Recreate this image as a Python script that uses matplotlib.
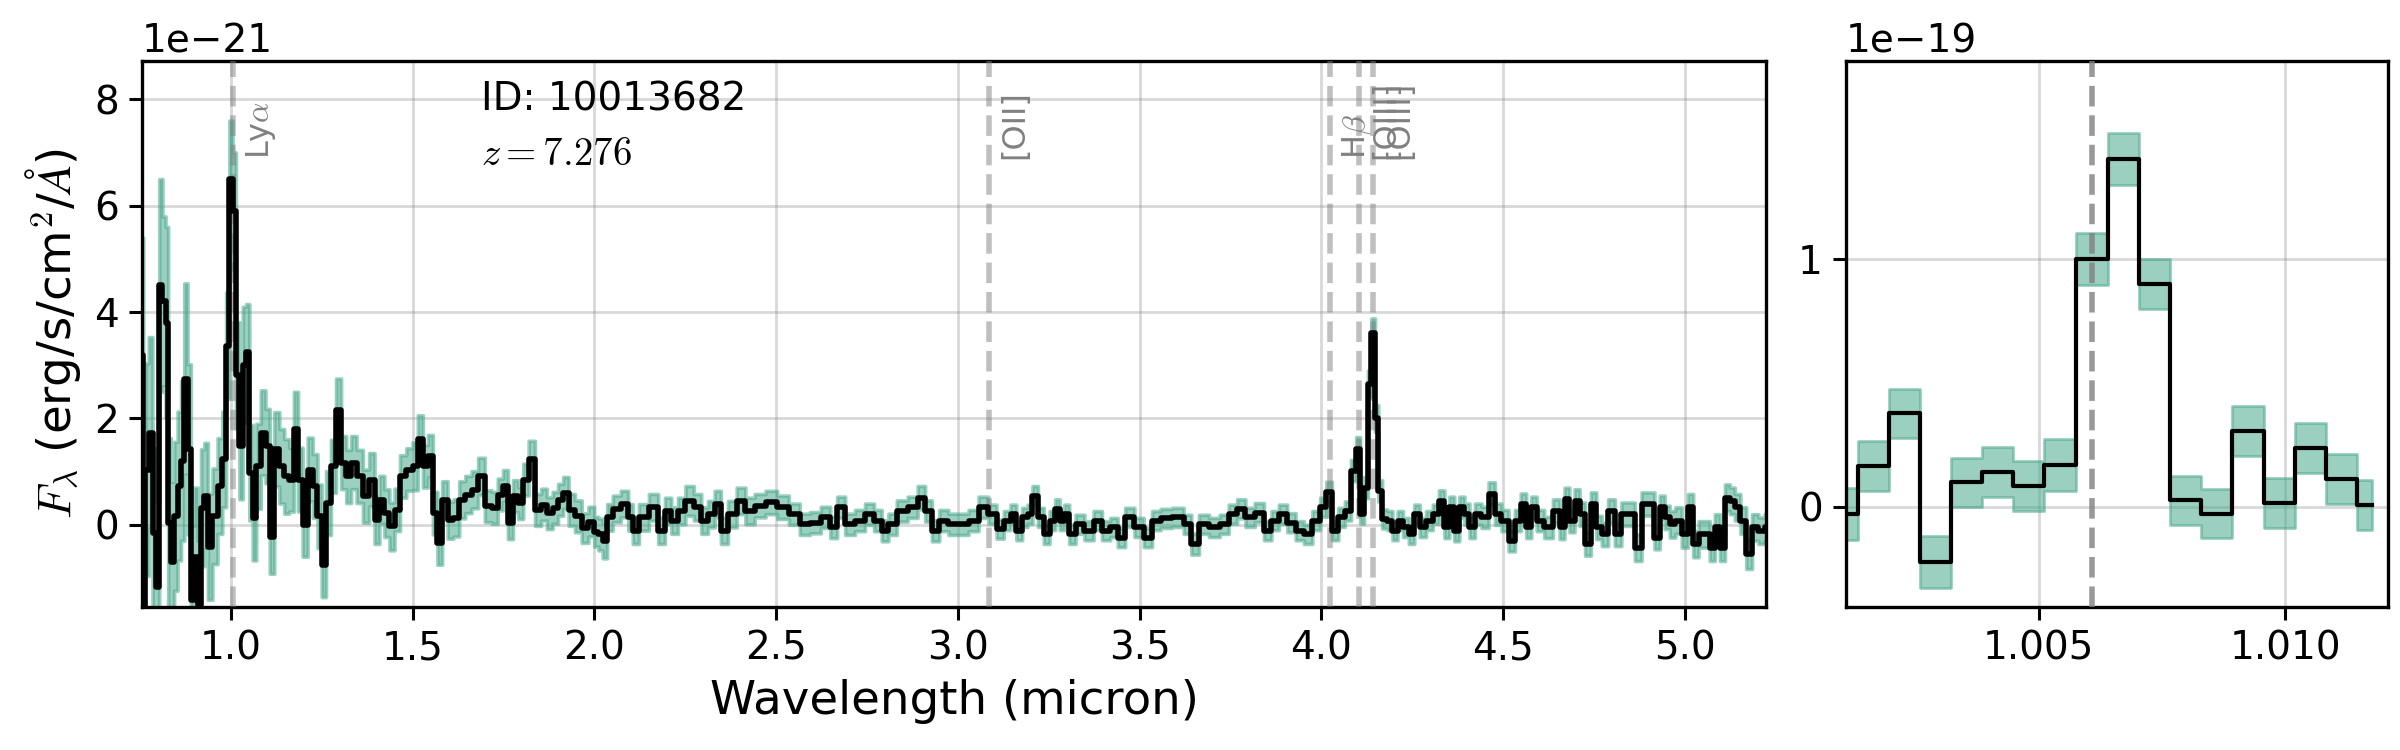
import matplotlib
matplotlib.use("Agg")
import matplotlib.pyplot as plt
import matplotlib.transforms as mtransforms
import numpy as np

plt.rcParams["mathtext.fontset"] = "cm"
plt.rcParams["font.family"] = ["DejaVu Sans"]

# full spectrum, flux in units of 1e-21 erg/s/cm2/A
wave = [
    0.756, 0.761, 0.768, 0.779, 0.789, 0.798, 0.807, 0.816, 0.824, 0.830,
    0.839, 0.848, 0.858, 0.867, 0.876, 0.885, 0.894, 0.903, 0.913, 0.922,
    0.931, 0.942, 0.956, 0.970, 0.982, 0.991, 1.000, 1.009, 1.018, 1.028,
    1.037, 1.046, 1.055, 1.064, 1.075, 1.089, 1.101, 1.112, 1.126, 1.140,
    1.153, 1.167, 1.179, 1.190, 1.204, 1.218, 1.232, 1.244, 1.255, 1.268,
    1.282, 1.296, 1.310, 1.324, 1.337, 1.354, 1.372, 1.388, 1.402, 1.415,
    1.429, 1.443, 1.457, 1.473, 1.492, 1.507, 1.521, 1.535, 1.549, 1.562,
    1.574, 1.588, 1.604, 1.620, 1.636, 1.653, 1.671, 1.689, 1.708, 1.726,
    1.742, 1.755, 1.769, 1.783, 1.797, 1.811, 1.827, 1.846, 1.861, 1.877,
    1.893, 1.907, 1.921, 1.937, 1.956, 1.974, 1.993, 2.006, 2.016, 2.029,
    2.041, 2.060, 2.085, 2.101, 2.110, 2.135, 2.165, 2.186, 2.202, 2.221,
    2.239, 2.262, 2.285, 2.303, 2.322, 2.340, 2.356, 2.379, 2.404, 2.427,
    2.455, 2.487, 2.519, 2.551, 2.579, 2.607, 2.639, 2.659, 2.677, 2.703,
    2.731, 2.758, 2.781, 2.800, 2.818, 2.846, 2.878, 2.901, 2.919, 2.938,
    2.960, 2.988, 3.016, 3.043, 3.071, 3.097, 3.116, 3.137, 3.153, 3.169,
    3.185, 3.199, 3.212, 3.229, 3.244, 3.261, 3.275, 3.286, 3.300, 3.313,
    3.335, 3.362, 3.385, 3.408, 3.431, 3.449, 3.472, 3.500, 3.523, 3.546,
    3.570, 3.610, 3.633, 3.652, 3.675, 3.707, 3.734, 3.757, 3.780, 3.803,
    3.831, 3.854, 3.872, 3.895, 3.918, 3.941, 3.964, 3.987, 4.007, 4.021,
    4.038, 4.056, 4.074, 4.090, 4.102, 4.112, 4.124, 4.133, 4.143, 4.153,
    4.161, 4.174, 4.189, 4.203, 4.217, 4.233, 4.249, 4.263, 4.279, 4.298,
    4.316, 4.332, 4.346, 4.359, 4.373, 4.387, 4.401, 4.415, 4.431, 4.451,
    4.470, 4.486, 4.506, 4.525, 4.541, 4.557, 4.571, 4.585, 4.601, 4.626,
    4.649, 4.663, 4.676, 4.690, 4.704, 4.718, 4.734, 4.750, 4.764, 4.780,
    4.799, 4.817, 4.835, 4.854, 4.872, 4.891, 4.909, 4.925, 4.938, 4.952,
    4.966, 4.983, 5.001, 5.017, 5.030, 5.047, 5.062, 5.076, 5.090, 5.104,
    5.118, 5.131, 5.145, 5.162, 5.177, 5.194, 5.212, 5.228,
]
flux = [
    3.2, -2.0, 1.04, 1.73, -0.16, -1.17, 4.5, 4.2, 3.8, 0.03,
    -0.69, 0.16, 0.73, 1.2, 2.74, 1.42, -1.42, -0.6, -1.5, 0.32,
    0.54, -0.41, 0.16, 0.73, 1.23, 3.37, 6.5, 5.9, 2.81, 1.48,
    3.0, 3.25, 0.98, 0.13, 1.1, 1.73, 1.48, -0.22, 1.42, 1.1,
    0.91, 0.85, 1.8, 0.85, 0.0, 1.04, 0.73, 0.16, -0.76, 0.41,
    1.1, 2.15, 1.17, 0.91, 1.17, 0.91, 0.54, 0.85, 0.09, 0.47,
    0.22, -0.03, 0.28, 0.91, 1.04, 1.1, 1.61, 1.1, 1.29, 0.22,
    -0.35, 0.47, 0.09, 0.13, 0.47, 0.57, 0.66, 0.91, 0.35, 0.32,
    0.57, 0.73, 0.03, 0.54, 0.41, 0.85, 1.23, 0.28, 0.38, 0.22,
    0.32, 0.47, 0.6, 0.28, 0.16, -0.06, 0.06, -0.13, -0.18, -0.30,
    0.14, 0.30, 0.39, 0.14, -0.11, 0.14, 0.33, -0.11, 0.26, 0.08,
    0.26, 0.45, 0.33, 0.08, 0.20, 0.39, -0.11, 0.20, 0.45, 0.26,
    0.36, 0.42, 0.33, 0.20, 0.01, 0.04, 0.14, -0.05, 0.33, 0.01,
    0.08, 0.20, 0.08, -0.11, 0.01, 0.26, 0.33, 0.51, 0.26, -0.11,
    0.08, 0.01, 0.01, 0.08, 0.33, 0.20, -0.08, 0.08, 0.20, -0.11,
    0.14, 0.20, 0.55, 0.14, -0.18, 0.08, 0.30, 0.08, 0.20, -0.18,
    0.01, -0.11, 0.08, -0.11, -0.05, -0.24, 0.14, -0.05, -0.24, 0.08,
    0.12, 0.14, 0.01, -0.36, 0.01, -0.05, 0.01, 0.20, 0.30, 0.14,
    0.23, -0.11, 0.08, 0.20, 0.04, -0.11, -0.18, 0.08, 0.33, 0.61,
    -0.11, 0.14, 0.26, 1.02, 1.43, 0.20, 0.70, 2.65, 3.6, 2.0,
    0.64, 0.11, 0.08, -0.11, 0.08, -0.05, -0.18, 0.20, -0.05, 0.08,
    0.20, 0.45, -0.05, 0.33, -0.11, 0.33, 0.20, -0.05, 0.20, 0.14,
    0.58, 0.20, 0.08, -0.30, 0.08, 0.39, -0.05, 0.33, 0.08, -0.05,
    0.26, -0.05, 0.48, 0.08, 0.45, 0.20, -0.36, 0.39, -0.05, -0.18,
    0.26, -0.18, 0.20, 0.20, -0.43, 0.39, 0.39, -0.24, 0.33, 0.14,
    0.01, 0.08, -0.18, 0.33, -0.36, -0.18, -0.18, -0.43, -0.05, -0.43,
    0.51, 0.45, 0.33, 0.08, -0.55, -0.05, -0.11, -0.05,
]
flux_err = [
    2.2, 1.8, 2.0, 1.8, 1.6, 1.6, 2.0, 1.6, 1.8, 1.6,
    1.5, 1.4, 1.4, 1.5, 1.8, 1.6, 1.4, 1.3, 1.2, 1.1,
    1.0, 1.0, 0.9, 0.9, 0.9, 1.0, 1.1, 1.1, 1.0, 1.0,
    1.1, 0.9, 0.9, 0.8, 0.8, 0.8, 0.7, 0.7, 0.7, 0.7,
    0.7, 0.6, 0.7, 0.6, 0.6, 0.6, 0.6, 0.6, 0.6, 0.6,
    0.5, 0.6, 0.5, 0.5, 0.5, 0.5, 0.5, 0.5, 0.45, 0.45,
    0.45, 0.45, 0.4, 0.4, 0.4, 0.45, 0.45, 0.4, 0.4, 0.4,
    0.4, 0.35, 0.35, 0.35, 0.35, 0.35, 0.35, 0.35, 0.3, 0.3,
    0.3, 0.3, 0.3, 0.3, 0.3, 0.3, 0.35, 0.3, 0.3, 0.3,
    0.3, 0.3, 0.3, 0.3, 0.3, 0.28, 0.28, 0.28, 0.3, 0.33,
    0.25, 0.25, 0.25, 0.25, 0.25, 0.25, 0.25, 0.25, 0.25, 0.25,
    0.25, 0.28, 0.25, 0.25, 0.25, 0.25, 0.25, 0.25, 0.25, 0.25,
    0.22, 0.22, 0.22, 0.2, 0.2, 0.2, 0.2, 0.2, 0.2, 0.2,
    0.2, 0.2, 0.2, 0.2, 0.2, 0.2, 0.2, 0.22, 0.2, 0.2,
    0.2, 0.2, 0.2, 0.2, 0.2, 0.18, 0.18, 0.18, 0.18, 0.18,
    0.18, 0.18, 0.18, 0.18, 0.18, 0.18, 0.18, 0.18, 0.18, 0.18,
    0.18, 0.18, 0.18, 0.18, 0.18, 0.18, 0.18, 0.18, 0.18, 0.18,
    0.18, 0.18, 0.18, 0.2, 0.18, 0.18, 0.18, 0.18, 0.18, 0.18,
    0.18, 0.18, 0.18, 0.18, 0.18, 0.18, 0.18, 0.18, 0.18, 0.2,
    0.18, 0.18, 0.18, 0.2, 0.22, 0.18, 0.2, 0.25, 0.28, 0.25,
    0.2, 0.18, 0.18, 0.18, 0.18, 0.18, 0.18, 0.18, 0.18, 0.18,
    0.18, 0.2, 0.2, 0.2, 0.2, 0.2, 0.2, 0.2, 0.2, 0.2,
    0.22, 0.2, 0.2, 0.2, 0.2, 0.2, 0.2, 0.2, 0.2, 0.2,
    0.22, 0.22, 0.22, 0.22, 0.22, 0.22, 0.22, 0.22, 0.22, 0.22,
    0.22, 0.22, 0.22, 0.22, 0.25, 0.22, 0.22, 0.22, 0.22, 0.22,
    0.25, 0.25, 0.25, 0.25, 0.25, 0.25, 0.25, 0.25, 0.25, 0.25,
    0.25, 0.25, 0.25, 0.25, 0.28, 0.25, 0.25, 0.25,
]

# zoom on Lyman alpha, flux in units of 1e-19
zoom_wave = [
    1.001008, 1.001643, 1.002273, 1.002903, 1.003534, 1.004164,
    1.004794, 1.005433, 1.006080, 1.006723, 1.007357, 1.007987,
    1.008618, 1.009248, 1.009878, 1.010508, 1.011139, 1.011765,
]
zoom_flux = [
    -0.029, 0.164, 0.376, -0.226, 0.097, 0.139,
    0.083, 0.168, 1.0, 1.405, 0.898, 0.025,
    -0.029, 0.305, 0.014, 0.237, 0.112, 0.006,
]
zoom_err = [
    0.105, 0.10, 0.10, 0.105, 0.10, 0.10,
    0.10, 0.105, 0.105, 0.105, 0.10, 0.10,
    0.10, 0.10, 0.10, 0.10, 0.10, 0.10,
]

obj_id = "10013682"
z = 7.276
line_names = ["Ly$\\alpha$", "[OII]", "H$\\beta$", "[OIII]", "[OIII]"]
line_rest = [1215.67, 3727.1, 4861.3, 4958.9, 5006.8]  # Angstrom

band_color = "#49a88c"

fig = plt.figure(figsize=(12, 3.75), dpi=200)
ax = fig.add_axes([0.059, 0.191, 0.677, 0.7277])
ax2 = fig.add_axes([0.769, 0.191, 0.2258, 0.7277])

w = np.array(wave)
f = np.array(flux) * 1e-21
e = np.array(flux_err) * 1e-21

ax.fill_between(w, f - e, f + e, step="mid", color=band_color, alpha=0.55,
                lw=1.3, zorder=2)
ax.step(w, f, where="mid", color="k", lw=2.0, zorder=4)

trans = mtransforms.blended_transform_factory(ax.transData, ax.transAxes)
for name, rest in zip(line_names, line_rest):
    obs = rest * (1 + z) / 1e4
    ax.axvline(obs, ls="--", color="gray", alpha=0.5, lw=2, zorder=3)
    ax.text(obs + 0.03, 0.82, name, transform=trans, rotation=90,
            va="bottom", ha="left", color="gray", fontsize=11.5)

ax.text(0.209, 0.965, "ID: " + obj_id, transform=ax.transAxes,
        va="top", ha="left", fontsize=14)
ax.text(0.209, 0.865, "$z=%.3f$" % z, transform=ax.transAxes,
        va="top", ha="left", fontsize=14)

ax.set_xlim(0.754, 5.225)
ax.set_ylim(-1.54e-21, 8.72e-21)
ax.set_xticks([1.0, 1.5, 2.0, 2.5, 3.0, 3.5, 4.0, 4.5, 5.0])
ax.set_yticks([0, 2e-21, 4e-21, 6e-21, 8e-21])
ax.set_xlabel("Wavelength (micron)", fontsize=16.8)
ax.set_ylabel("$F_\\lambda$ (erg/s/cm$^2$/$\\AA$)", fontsize=16.8)

zw = np.array(zoom_wave)
zf = np.array(zoom_flux) * 1e-19
ze = np.array(zoom_err) * 1e-19
ax2.fill_between(zw, zf - ze, zf + ze, step="mid", color=band_color, alpha=0.55, zorder=2)
ax2.axvline(line_rest[0] * (1 + z) / 1e4, ls="--", color="gray", alpha=0.8, lw=2, zorder=3)
ax2.step(zw, zf, where="mid", color="k", lw=1.5, zorder=4)
ax2.set_xlim(1.00108, 1.01208)
ax2.set_ylim(-0.405e-19, 1.80e-19)
ax2.set_xticks([1.005, 1.010])
ax2.set_yticks([0, 1e-19])
ax2.ticklabel_format(axis="x", useOffset=False)

for a in (ax, ax2):
    a.grid(True, color="gray", alpha=0.3, lw=1.0)
    a.set_axisbelow(True)
    a.tick_params(labelsize=14, length=4.7, width=1.1)
    a.yaxis.get_offset_text().set_fontsize(14)
    for s in a.spines.values():
        s.set_linewidth(1.2)

fig.savefig("out.png", dpi=200)
